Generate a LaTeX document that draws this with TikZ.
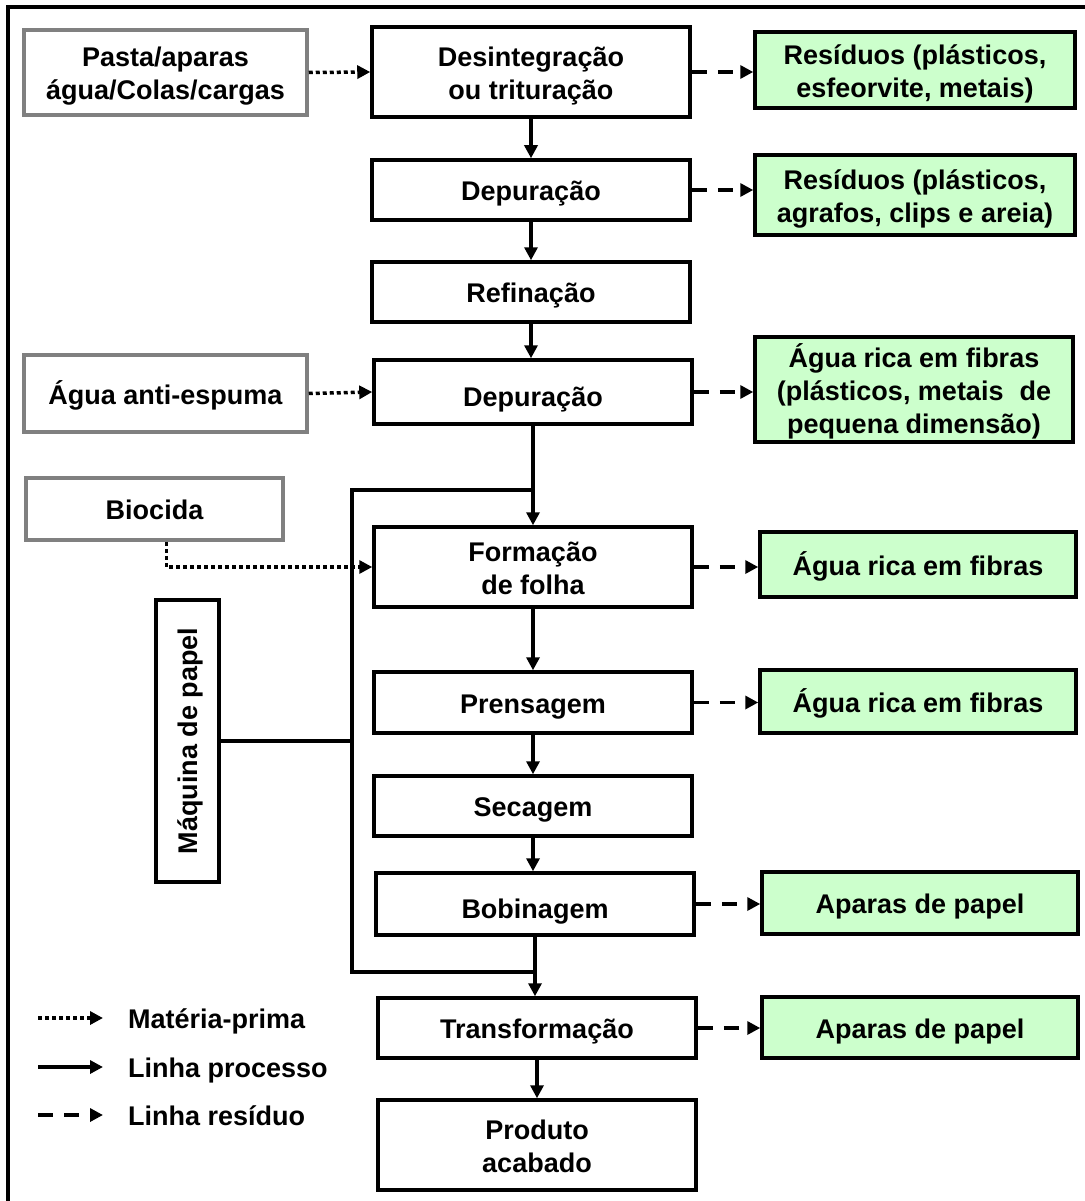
\documentclass[tikz,border=0pt]{standalone}
\usepackage{fontspec}
\setmainfont{Liberation Sans}
\usetikzlibrary{arrows.meta}
\definecolor{resgreen}{HTML}{CCFFCC}
\definecolor{srcgray}{HTML}{808080}
\newcommand{\tx}[2][-4pt]{\raisebox{#1}[\height][\depth]{\begin{tabular}{@{}c@{}}#2\end{tabular}}}
\begin{document}
\begin{tikzpicture}[x=1pt,y=-1pt,
  base/.style={inner sep=0pt, align=center, font=\fontsize{27}{33}\selectfont\bfseries, line width=3.5pt},
  proc/.style={base, draw=black, fill=white},
  src/.style={base, draw=srcgray, fill=white},
  res/.style={base, draw=black, fill=resgreen},
  txt/.style={inner sep=0pt, font=\fontsize{27}{33}\selectfont\bfseries},
  tipped/.style={-{Triangle[length=13pt,width=13pt]}},
  flow/.style={tipped, line width=3.5pt},
  raw/.style={tipped, line width=3.5pt, dash pattern=on 4pt off 3pt},
  waste/.style={tipped, line width=3.5pt, dash pattern=on 15pt off 11pt},
  plain/.style={line width=3.5pt}]
\useasboundingbox (0,0) rectangle (1084,1201);
% outer frame
\draw[line width=3.5pt] (8,1260) -- (8,7) -- (1140,7);

% source boxes
\node[src, minimum width=283pt, minimum height=85pt] (pasta) at (165.5,72.5) {\tx{Pasta/aparas\\água/Colas/cargas}};
\node[src, minimum width=283pt, minimum height=77pt] (agua) at (165.5,393.5) {\tx{Água anti-espuma}};
\node[src, minimum width=257pt, minimum height=62pt] (bio) at (154.5,509) {\tx{Biocida}};

% process boxes
\node[proc, minimum width=318pt, minimum height=90pt] (desint) at (531,72) {\tx{Desintegração\\ou trituração}};
\node[proc, minimum width=318pt, minimum height=60pt] (dep1) at (531,190) {\tx{Depuração}};
\node[proc, minimum width=318pt, minimum height=60pt] (ref) at (531,292) {\tx{Refinação}};
\node[proc, minimum width=318pt, minimum height=64pt] (dep2) at (533,392) {\tx[-8pt]{Depuração}};
\node[proc, minimum width=318pt, minimum height=80pt] (form) at (533,567) {\tx{Formação\\de folha}};
\node[proc, minimum width=318pt, minimum height=61pt] (pren) at (533,702.5) {\tx{Prensagem}};
\node[proc, minimum width=318pt, minimum height=60pt] (sec) at (533,806) {\tx{Secagem}};
\node[proc, minimum width=318pt, minimum height=62pt] (bob) at (535,904) {\tx[-8pt]{Bobinagem}};
\node[proc, minimum width=318pt, minimum height=60pt] (trans) at (537,1028) {\tx{Transformação}};
\node[proc, minimum width=318pt, minimum height=90pt] (prod) at (537,1145) {\tx{Produto\\acabado}};
\node[proc, rotate=90, minimum width=282pt, minimum height=63pt] (maq) at (187.5,741) {\tx[-3pt]{Máquina de papel}};

% residue boxes
\node[res, minimum width=320pt, minimum height=76pt] (res1) at (915,70) {\tx{Resíduos (plásticos,\\esfeorvite, metais)}};
\node[res, minimum width=320pt, minimum height=80pt] (res2) at (915,195) {\tx{Resíduos (plásticos,\\agrafos, clips e areia)}};
\node[res, minimum width=318pt, minimum height=105pt] (res3) at (914,389.5) {\tx{Água rica em fibras\\(plásticos, metais\hspace{16pt}de\\pequena dimensão)}};
\node[res, minimum width=316pt, minimum height=65pt] (res4) at (918,564.5) {\tx{Água rica em fibras}};
\node[res, minimum width=316pt, minimum height=63pt] (res5) at (918,701.5) {\tx{Água rica em fibras}};
\node[res, minimum width=316pt, minimum height=62pt] (apa1) at (920,903) {\tx{Aparas de papel}};
\node[res, minimum width=316pt, minimum height=61pt] (apa2) at (920,1027.5) {\tx{Aparas de papel}};

% process line
\draw[flow] (desint.south) -- (dep1.north);
\draw[flow] (dep1.south) -- (ref.north);
\draw[flow] (ref.south) -- (ref.south |- dep2.north);
\draw[flow] (dep2.south) -- (form.north);
\draw[flow] (form.south) -- (pren.north);
\draw[flow] (pren.south) -- (sec.north);
\draw[flow] (sec.south) -- (sec.south |- bob.north);
\draw[flow] (bob.south) -- (bob.south |- trans.north);
\draw[flow] (trans.south) -- (prod.north);

% paper machine bracket
\coordinate (jt) at (533,490);
\coordinate (jl) at (352,490);
\coordinate (jb) at (352,972);
\coordinate (jr) at (536,972);
\draw[plain] (jt) -- (jl) -- (jb) -- (jr);
\draw[plain] (maq.south) -- (maq.south -| jl);

% raw material
\draw[raw] (pasta.east) -- (desint.west);
\draw[raw] (agua.east) -- (dep2.west);
\draw[raw] ([xshift=12pt]bio.south) |- (form.west);

% residues
\draw[waste] (desint.east) -- (desint.east -| res1.west);
\draw[waste] (dep1.east) -- (dep1.east -| res2.west);
\draw[waste] (dep2.east) -- (dep2.east -| res3.west);
\draw[waste] (form.east) -- (form.east -| res4.west);
\draw[waste] (pren.east) -- (pren.east -| res5.west);
\draw[waste] (bob.east) -- (bob.east -| apa1.west);
\draw[waste] (trans.east) -- (trans.east -| apa2.west);

% legend
\coordinate (la1) at (38,1018); \coordinate (lb1) at (103,1018);
\coordinate (la2) at (38,1067); \coordinate (lb2) at (103,1067);
\coordinate (la3) at (38,1115); \coordinate (lb3) at (103,1115);
\draw[raw] (la1) -- (lb1);
\draw[flow] (la2) -- (lb2);
\draw[waste] (la3) -- (lb3);
\node[txt, anchor=west] (lt1) at (128,1018) {\tx{Matéria-prima}};
\node[txt, anchor=west] (lt2) at (128,1067) {\tx{Linha processo}};
\node[txt, anchor=west] (lt3) at (128,1115) {\tx{Linha resíduo}};
\end{tikzpicture}
\end{document}
